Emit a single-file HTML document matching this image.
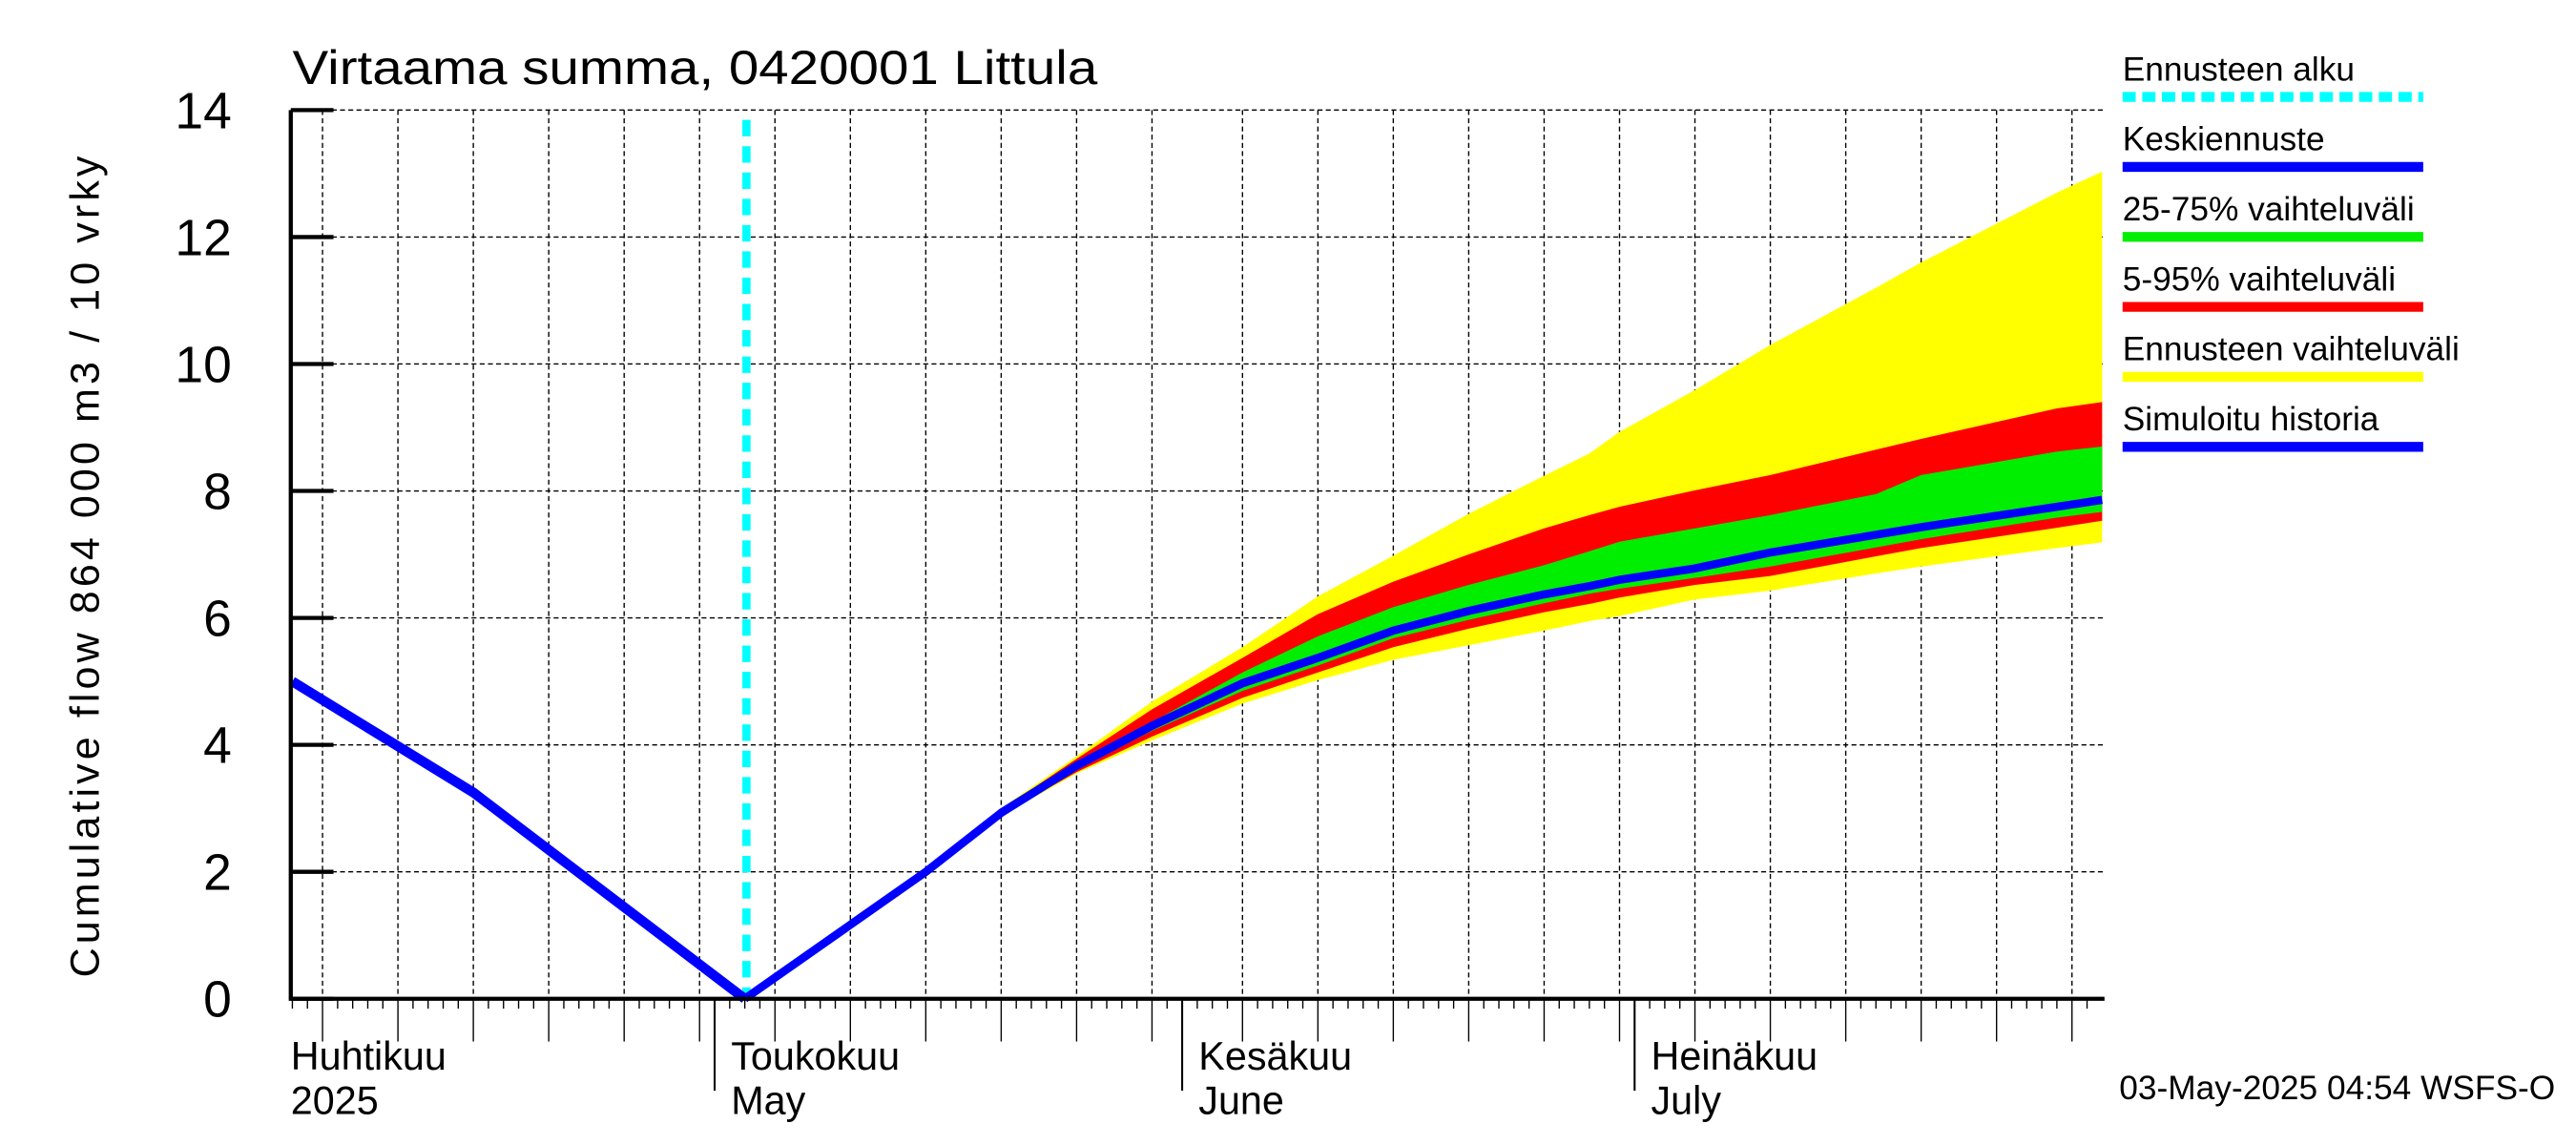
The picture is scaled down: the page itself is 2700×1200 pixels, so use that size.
<!DOCTYPE html>
<html><head><meta charset="utf-8"><style>
html,body{margin:0;padding:0;background:#fff;}
svg{display:block;font-family:"Liberation Sans",sans-serif;}
</style></head><body>
<svg id="chart" width="2700" height="1200" viewBox="0 0 1568 697" preserveAspectRatio="none" xmlns="http://www.w3.org/2000/svg">
<rect width="1568" height="697" fill="#fff"/>
<g id="grid"></g>
<g id="bands"></g>
<g id="lines"></g>
<g id="axes"></g>
<text x="178" y="51" font-size="29" textLength="490" lengthAdjust="spacingAndGlyphs">Virtaama summa, 0420001 Littula</text>
<text transform="translate(60,345) rotate(-90)" text-anchor="middle" font-size="25" textLength="500" lengthAdjust="spacing">Cumulative flow    864 000 m3 / 10 vrky</text>
<text x="1290" y="669" font-size="20.5">03-May-2025 04:54 WSFS-O</text>
<g id="legend"></g>
</svg>
<script>
const days = [32,44,49,54,59,65,70,75,80,85,88,90,95,100,107,110,119,122];
const median = [0,2.0,2.93,3.67,4.3,4.97,5.37,5.8,6.11,6.37,6.5,6.6,6.78,7.03,7.31,7.43,7.75,7.86];
const yellowHigh = [0,2.0,3.0,3.82,4.68,5.54,6.34,6.98,7.64,8.24,8.59,8.93,9.59,10.3,11.2,11.6,12.7,13.03];
const yellowLow = [0,2.0,2.88,3.55,4.07,4.65,5.02,5.34,5.57,5.8,5.95,6.03,6.29,6.43,6.7,6.81,7.1,7.19];
const redHigh = [0,2.0,2.98,3.78,4.56,5.37,6.06,6.57,7.0,7.41,7.62,7.75,8.01,8.25,8.65,8.82,9.3,9.4];
const redLow = [0,2.0,2.9,3.57,4.13,4.74,5.14,5.54,5.83,6.09,6.22,6.32,6.52,6.66,6.97,7.1,7.42,7.53];
const greenHigh = [0,2.0,2.96,3.72,4.36,5.14,5.71,6.17,6.52,6.83,7.05,7.2,7.41,7.62,7.95,8.25,8.62,8.7];
const greenLow = [0,2.0,2.91,3.62,4.22,4.85,5.25,5.68,5.97,6.23,6.38,6.46,6.63,6.81,7.11,7.24,7.58,7.67];
const histDays = [2,14,32];
const histValues = [5.0,3.25,0];
const forecastStartDay = 32;
const yTicks = [0,2,4,6,8,10,12,14];
const monthStarts = [0,30,61,91];
const monthFi = ["Huhtikuu","Toukokuu","Kesäkuu","Heinäkuu"];
const monthEn = ["2025","May","June","July"];
const monthLens = [30,31,30,31];

const NS="http://www.w3.org/2000/svg";
const X0=177,X1=1281,Y0=608,Y1=67;
const xs=d=>435+(d-30)*9.18;
const ys=v=>Y0-(v/14)*(Y0-Y1);
function mk(parent,tag,attrs){const e=document.createElementNS(NS,tag);for(const k in attrs)e.setAttribute(k,attrs[k]);parent.appendChild(e);return e;}
const grid=document.getElementById('grid'),bands=document.getElementById('bands'),lines=document.getElementById('lines'),axes=document.getElementById('axes'),legend=document.getElementById('legend');

yTicks.forEach(v=>{
  if(v>0){const g=mk(grid,'line',{x1:X0,x2:X1,y1:ys(v),y2:ys(v),stroke:'#000','stroke-width':0.8,'stroke-dasharray':'3,2'});
  }
  const t=mk(axes,'line',{x1:X0,x2:X0+26,y1:ys(v),y2:ys(v),stroke:'#000','stroke-width':2.5});
  
  const l=mk(axes,'text',{x:141,y:ys(v)+11,'text-anchor':'end','font-size':31});
  l.textContent=v;
  
});
for(let m=0;m<4;m++){
  const s=monthStarts[m];
  for(let d=0;d<monthLens[m];d++){
    const day=s+d, x=xs(day);
    if(x<X0||x>X1)continue;
    const dom=d+1;
    let len=6;
    if(dom===1){len=56;}
    else if(dom%5===0){len=26;
      const g=mk(grid,'line',{x1:x,x2:x,y1:Y1,y2:Y0,stroke:'#000','stroke-width':0.8,'stroke-dasharray':'3,2'});
      }
    const t=mk(axes,'line',{x1:x,x2:x,y1:Y0,y2:Y0+len,stroke:'#000','stroke-width':dom===1?1.2:0.8});
    
  }
  const lx=Math.max(X0,xs(s))+ (m===0?0:10);
  const a=mk(axes,'text',{x:lx,y:651,'font-size':24});a.textContent=monthFi[m];
  
  const b=mk(axes,'text',{x:lx,y:678,'font-size':24});b.textContent=monthEn[m];
  
}
const ax=mk(axes,'path',{d:`M${X0},${Y1}V${Y0}H${X1}`,fill:'none',stroke:'#000','stroke-width':2.5});


function band(hi,lo,color,name){
  let d='M'+days.map((dd,i)=>xs(dd)+','+ys(hi[i])).join('L');
  for(let i=days.length-1;i>=0;i--)d+='L'+xs(days[i])+','+ys(lo[i]);
  const p=mk(bands,'path',{d:d+'Z',fill:color});
  
}
band(yellowHigh,yellowLow,'#ffff00','band-full-range');
band(redHigh,redLow,'#ff0000','band-5-95');
band(greenHigh,greenLow,'#00ee00','band-25-75');

const fs=mk(lines,'line',{x1:xs(forecastStartDay)+1,x2:xs(forecastStartDay)+1,y1:Y1+6,y2:Y0,stroke:'#00ffff','stroke-width':5,'stroke-dasharray':'10,6'});

const h=mk(lines,'polyline',{points:histDays.map((d,i)=>xs(d)+','+ys(histValues[i])).join(' '),fill:'none',stroke:'#0000ff','stroke-width':6,'stroke-linejoin':'round'});

const md=mk(lines,'polyline',{points:days.map((d,i)=>xs(d)+','+ys(median[i])).join(' '),fill:'none',stroke:'#0000ff','stroke-width':5,'stroke-linejoin':'round'});


const leg=[["Ennusteen alku","#00ffff",true],["Keskiennuste","#0000ff"],["25-75% vaihteluväli","#00ee00"],["5-95% vaihteluväli","#ff0000"],["Ennusteen vaihteluväli","#ffff00"],["Simuloitu historia","#0000ff"]];
leg.forEach((e,i)=>{
  const ly=59+i*42.6;
  const t=mk(legend,'text',{x:1292,y:ly-10,'font-size':20.5});t.textContent=e[0];
  
  const l=mk(legend,'line',{x1:1292,x2:1475,y1:ly,y2:ly,stroke:e[1],'stroke-width':6});
  if(e[2])l.setAttribute('stroke-dasharray','8,4');
  
});
</script>
</body></html>
